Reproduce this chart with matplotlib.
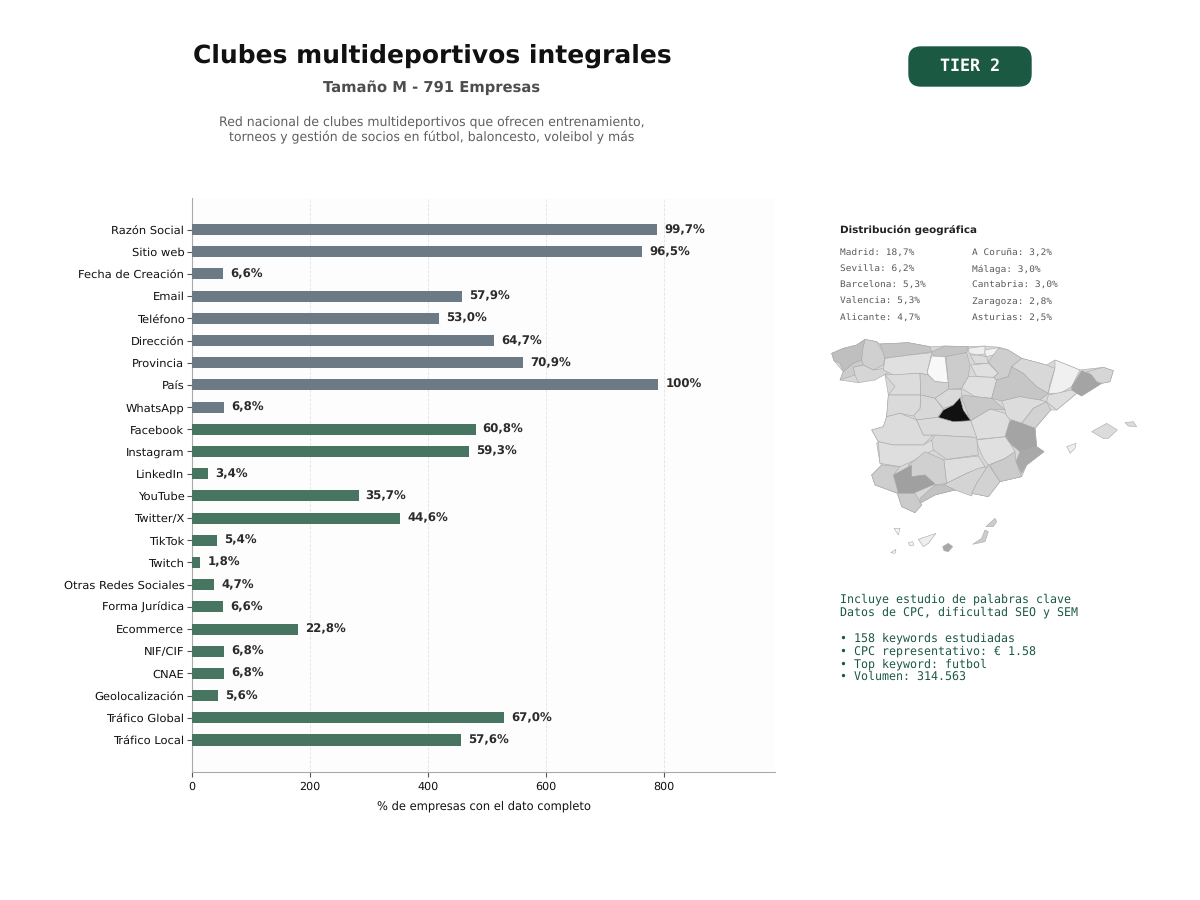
import matplotlib
matplotlib.use("Agg")
import matplotlib.pyplot as plt
from matplotlib.patches import FancyBboxPatch, Polygon

plt.rcParams["text.hinting"] = "no_hinting"

# data
campos = ["Razón Social", "Sitio web", "Fecha de Creación", "Email", "Teléfono", "Dirección",
          "Provincia", "País", "WhatsApp", "Facebook", "Instagram", "LinkedIn", "YouTube",
          "Twitter/X", "TikTok", "Twitch", "Otras Redes Sociales", "Forma Jurídica", "Ecommerce",
          "NIF/CIF", "CNAE", "Geolocalización", "Tráfico Global", "Tráfico Local"]
porcentajes = [99.7, 96.5, 6.6, 57.9, 53.0, 64.7, 70.9, 100, 6.8, 60.8, 59.3, 3.4, 35.7,
               44.6, 5.4, 1.8, 4.7, 6.6, 22.8, 6.8, 6.8, 5.6, 67.0, 57.6]
total_empresas = 791
n_gris = 9  # the first bars are the grey group

geo_col1 = ["Madrid: 18,7%", "Sevilla: 6,2%", "Barcelona: 5,3%", "Valencia: 5,3%", "Alicante: 4,7%"]
geo_col2 = ["A Coruña: 3,2%", "Málaga: 3,0%", "Cantabria: 3,0%", "Zaragoza: 2,8%", "Asturias: 2,5%"]
keywords = ["Incluye estudio de palabras clave", "Datos de CPC, dificultad SEO y SEM", "",
            "• 158 keywords estudiadas", "• CPC representativo: € 1.58",
            "• Top keyword: futbol", "• Volumen: 314.563"]

# backing silhouette so small gaps between traced provinces do not show white
silueta = [(35,70),(70,55),(110,45),(135,28),(170,35),(180,42),(265,38),(330,50),(375,48),(445,50),
           (495,48),(540,52),(565,60),(605,85),(680,105),(705,90),(780,120),(850,112),(880,122),
           (870,155),(845,160),(785,198),(770,190),(710,240),(692,240),(645,295),(650,350),(672,365),
           (620,405),(605,440),(540,455),(505,500),(455,490),(405,480),(345,495),(300,520),(305,525),
           (285,548),(245,530),(232,490),(165,465),(155,435),(185,405),(180,400),(170,340),(175,335),
           (155,300),(190,290),(200,260),(205,195),(195,135),(190,120),(195,115),(115,158),(60,150),
           (70,125),(42,92)]

# hand traced provinces: (grey level, outline)
provincias = {
    "A Coruña": ("#bfbfbf", [(35,70),(70,55),(110,45),(135,28),(128,60),(125,90),(100,100),(70,125),(60,100),(42,92)]),
    "Pontevedra": ("#cccccc", [(60,150),(70,125),(100,100),(125,90),(130,105),(100,112),(105,135)]),
    "Lugo": ("#d0d0d0", [(135,28),(170,35),(195,75),(190,105),(160,120),(130,105),(125,90),(128,60)]),
    "Ourense": ("#d6d6d6", [(100,112),(130,105),(160,120),(195,115),(205,128),(165,150),(115,158),(105,135)]),
    "Asturias": ("#c4c4c4", [(180,42),(265,38),(330,50),(335,65),(270,75),(195,85)]),
    "Cantabria": ("#c4c4c4", [(335,65),(375,48),(445,50),(440,68),(400,75),(378,80),(340,78)]),
    "Bizkaia": ("#eeeeee", [(445,55),(495,48),(495,72),(470,75),(448,70)]),
    "Gipuzkoa": ("#f2f2f2", [(495,60),(540,52),(530,72),(500,80),(495,72)]),
    "Alava": ("#dcdcdc", [(450,75),(470,75),(500,80),(505,100),(465,100)]),
    "La Rioja": ("#e0e0e0", [(452,105),(505,100),(535,130),(520,142),(470,140)]),
    "Navarra": ("#cecece", [(505,95),(535,55),(565,60),(605,85),(575,110),(565,140),(530,150),(520,142),(535,130)]),
    "León": ("#e0e0e0", [(195,85),(270,75),(335,68),(322,125),(325,135),(300,130),(220,135),(190,120)]),
    "Palencia": ("#f8f8f8", [(335,78),(375,80),(385,158),(345,155),(325,135),(322,125)]),
    "Burgos": ("#cccccc", [(378,80),(400,75),(440,68),(450,105),(445,140),(425,175),(385,178),(385,158)]),
    "Zamora": ("#dcdcdc", [(195,135),(300,130),(302,195),(205,195),(225,170)]),
    "Valladolid": ("#d2d2d2", [(300,130),(325,135),(345,155),(385,158),(385,178),(345,205),(302,195)]),
    "Soria": ("#e0e0e0", [(445,140),(470,140),(520,142),(530,150),(515,205),(465,200),(425,175)]),
    "Zaragoza": ("#c6c6c6", [(530,150),(565,140),(575,110),(610,130),(650,170),(685,190),(660,210),(600,200),(545,213),(515,205)]),
    "Huesca": ("#d8d8d8", [(605,85),(680,105),(705,115),(690,160),(685,190),(650,170),(610,130),(575,110)]),
    "Lleida": ("#f0f0f0", [(705,90),(780,120),(755,170),(720,190),(685,190),(705,115)]),
    "Barcelona": ("#a4a4a4", [(785,122),(815,135),(830,155),(845,160),(785,198),(755,180),(755,170)]),
    "Girona": ("#d6d6d6", [(800,125),(850,112),(880,122),(870,155),(845,160),(830,155),(815,135)]),
    "Tarragona": ("#dedede", [(685,195),(755,180),(770,190),(710,240),(680,215)]),
    "Teruel": ("#dcdcdc", [(545,213),(600,200),(660,210),(680,215),(640,235),(605,280),(560,265),(555,240)]),
    "Castellón": ("#d2d2d2", [(640,235),(680,215),(692,240),(645,295),(605,280)]),
    "Valencia": ("#a4a4a4", [(560,285),(575,270),(605,280),(645,295),(650,350),(600,365),(570,340),(555,315)]),
    "Alicante": ("#a9a9a9", [(600,365),(650,350),(672,365),(620,405),(605,430),(588,395)]),
    "Murcia": ("#cbcbcb", [(510,405),(555,385),(585,365),(588,395),(605,440),(540,455),(520,425)]),
    "Albacete": ("#e0e0e0", [(470,330),(555,320),(570,340),(585,365),(555,385),(505,405),(490,385),(475,350)]),
    "Cuenca": ("#dedede", [(452,272),(510,237),(555,250),(570,270),(555,320),(470,328)]),
    "Guadalajara": ("#c8c8c8", [(430,195),(465,200),(515,205),(555,240),(510,237),(452,272),(425,205)]),
    "Segovia": ("#dadada", [(345,205),(385,178),(425,178),(425,200),(400,225),(370,235)]),
    "Ávila": ("#d8d8d8", [(302,195),(345,205),(370,238),(352,262),(290,270),(280,255),(300,235)]),
    "Salamanca": ("#dadada", [(205,195),(302,195),(300,235),(280,258),(240,250),(200,260)]),
    "Cáceres": ("#dcdcdc", [(155,300),(190,290),(200,260),(240,250),(290,270),(310,315),(340,315),(310,345),(220,345),(175,335)]),
    "Toledo": ("#dadada", [(290,270),(352,262),(400,275),(452,272),(470,322),(420,320),(345,315),(310,315)]),
    "Ciudad Real": ("#d6d6d6", [(345,315),(420,320),(470,322),(475,375),(380,388),(340,360),(330,340)]),
    "Badajoz": ("#dedede", [(175,335),(220,345),(310,345),(335,330),(340,360),(285,390),(240,410),(180,400)]),
    "Córdoba": ("#d0d0d0", [(285,390),(315,365),(372,390),(380,460),(345,465),(315,435),(275,440),(265,405)]),
    "Jaén": ("#dedede", [(372,390),(475,378),(495,410),(440,430),(380,460)]),
    "Granada": ("#d4d4d4", [(370,465),(440,430),(475,415),(505,410),(470,460),(455,498),(405,480)]),
    "Almería": ("#d2d2d2", [(505,405),(520,425),(540,455),(505,500),(455,490),(470,460)]),
    "Sevilla": ("#a0a0a0", [(220,435),(275,405),(275,440),(315,435),(345,462),(280,490),(235,490)]),
    "Huelva": ("#cecece", [(155,435),(185,405),(240,410),(220,435),(235,490),(165,465)]),
    "Cádiz": ("#cbcbcb", [(232,490),(285,490),(305,525),(285,548),(245,530)]),
    "Málaga": ("#c2c2c2", [(300,505),(345,465),(375,465),(405,480),(345,495),(300,520)]),
    "Madrid": ("#111111", [(420,203),(430,240),(452,272),(400,275),(355,262),(370,240),(400,225)]),
    "Mallorca": ("#dcdcdc", [(815,305),(860,280),(892,300),(865,325),(850,325)]),
    "Menorca": ("#dcdcdc", [(915,278),(940,275),(950,290),(925,288)]),
    "Ibiza": ("#eeeeee", [(740,350),(768,340),(765,355),(750,370),(745,358)]),
    "Lanzarote": ("#cccccc", [(498,590),(525,565),(530,575),(520,590)]),
    "Fuerteventura": ("#cccccc", [(458,643),(485,625),(495,600),(505,605),(495,635)]),
    "Gran Canaria": ("#a8a8a8", [(368,650),(385,640),(398,650),(385,665),(372,662)]),
    "Tenerife": ("#eeeeee", [(295,628),(348,610),(325,640),(310,650)]),
    "La Gomera": ("#f4f4f4", [(265,638),(278,635),(282,645),(270,648)]),
    "La Palma": ("#f4f4f4", [(222,595),(240,595),(235,615)]),
    "El Hierro": ("#f4f4f4", [(212,668),(228,658),(225,670)]),
}

W, H = 1200, 900
GRIS = "#6c7a86"
VERDE = "#477561"
OSCURO = "#1b5943"

fig = plt.figure(figsize=(12, 9), dpi=100, facecolor="white")


def px_text(x, y, s, **kw):
    kw.setdefault("va", "center")
    fig.text(x / W, 1 - y / H, s, **kw)


# main bars
ax = fig.add_axes([192 / W, 1 - 772 / H, 583 / W, 574 / H])
ax.set_facecolor("#fdfdfd")
valores = [p * total_empresas / 100 for p in porcentajes]
colores = [GRIS if i < n_gris else VERDE for i in range(len(campos))]
ax.barh(range(len(campos)), valores, height=0.5, color=colores, zorder=3)
ax.set_yticks(range(len(campos)))
ax.set_yticklabels(campos, fontsize=8.25, color="#111111")
ax.set_ylim(len(campos) - 1 + 1.44, -1.42)
ax.set_xlim(0, total_empresas * 1.25)
ax.set_xticks([0, 200, 400, 600, 800])
ax.tick_params(axis="x", labelsize=8, colors="#111111")
ax.tick_params(axis="y", pad=2)
ax.tick_params(axis="both", color="#555555")
ax.grid(axis="x", linestyle="--", linewidth=0.6, color="#dddddd", alpha=0.8, zorder=0)
ax.set_axisbelow(True)
ax.spines["top"].set_visible(False)
ax.spines["right"].set_visible(False)
ax.spines["left"].set_color("#aaaaaa")
ax.spines["bottom"].set_color("#aaaaaa")
ax.set_xlabel("% de empresas con el dato completo", fontsize=8.3, labelpad=6, color="#111111")

for i, (v, p) in enumerate(zip(valores, porcentajes)):
    txt = "100%" if p == 100 else f"{p:.1f}%".replace(".", ",")
    ax.text(v + 12, i, txt, va="center", ha="left", fontsize=8.5, fontweight="bold", color="#2b2b2b", zorder=4)

# header
px_text(432, 56, "Clubes multideportivos integrales", fontsize=18, fontweight="bold", ha="center", color="#111111")
px_text(432, 88, "Tamaño M - 791 Empresas", fontsize=10.6, fontweight="bold", ha="center", color="#4d4d4d")
px_text(432, 130, "Red nacional de clubes multideportivos que ofrecen entrenamiento,\n"
        "torneos y gestión de socios en fútbol, baloncesto, voleibol y más",
        fontsize=9, ha="center", color="#5f5f5f", linespacing=1.2)

# tier badge
bg = fig.add_axes([0, 0, 1, 1], zorder=-1)
bg.set_xlim(0, W)
bg.set_ylim(H, 0)
bg.axis("off")
bg.add_patch(FancyBboxPatch((918, 56), 104, 21, boxstyle="round,pad=9,rounding_size=12",
                            facecolor=OSCURO, edgecolor=OSCURO, linewidth=1))
px_text(970, 66, "TIER 2", fontsize=12, fontweight="bold", family="monospace", ha="center", color="white")

# geographic block
px_text(840, 230, "Distribución geográfica", fontsize=7.5, fontweight="bold", color="#222222")
for i, (a, b) in enumerate(zip(geo_col1, geo_col2)):
    y = 253 + i * 16.2
    px_text(840, y, a, fontsize=6.8, family="monospace", color="#5a5a5a")
    px_text(971.5, y, b, fontsize=6.8, family="monospace", color="#5a5a5a")

# map, outlines are in crop pixels of the reference
mapa = fig.add_axes([820 / W, 1 - 570 / H, 330 / W, 240 / H])
mapa.set_xlim(0, 990)
mapa.set_ylim(720, 0)
mapa.axis("off")
mapa.add_patch(Polygon(silueta, closed=True, facecolor="#d8d8d8", edgecolor="#a8a8a8", linewidth=0.4))
for nombre, (gris, puntos) in provincias.items():
    mapa.add_patch(Polygon(puntos, closed=True, facecolor=gris, edgecolor="#a8a8a8", linewidth=0.4))

# keywords block
for i, linea in enumerate(keywords):
    px_text(840.5, 599.5 + i * 12.9, linea, fontsize=8.35, family="monospace", color=OSCURO)

fig.savefig("out.png", dpi=100, facecolor="white")
